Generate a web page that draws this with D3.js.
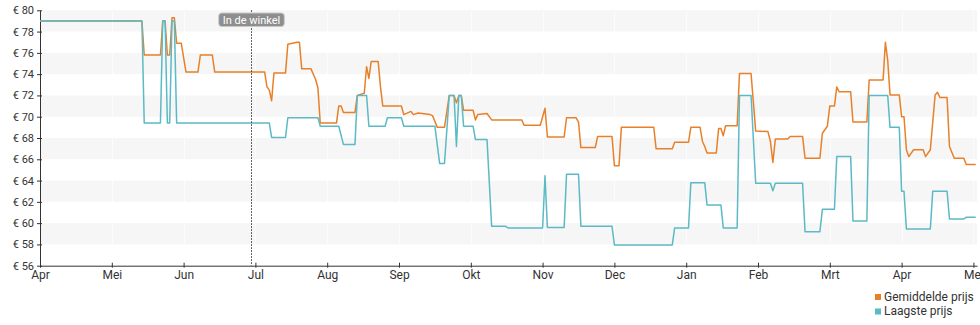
<!DOCTYPE html>
<html><head><meta charset="utf-8">
<script src="https://cdn.jsdelivr.net/npm/d3@7"></script>
<style>body{margin:0;background:#fff;} svg{display:block;font-family:Roboto,sans-serif;}</style>
</head><body><svg id="c" width="980" height="325"></svg>
<script>
const monthLabels = ["Apr","Mei","Jun","Jul","Aug","Sep","Okt","Nov","Dec","Jan","Feb","Mrt","Apr","Mei"];
const yTicks = [56,58,60,62,64,66,68,70,72,74,76,78,80];
const seriesNames = ["Gemiddelde prijs","Laagste prijs"];
const seriesColors = ["#e8802a","#5bbac5"];
const storeDate = "2023-06-29";
const storeLabel = "In de winkel";

const avgPrice = [
["2023-04-01",79],["2023-05-14",79],["2023-05-15",75.8],["2023-05-22",75.8],["2023-05-23",79],["2023-05-24",79],
["2023-05-25",75.8],["2023-05-26",75.8],["2023-05-27",79.3],["2023-05-28",79.3],["2023-05-29",76.9],["2023-05-31",76.9],
["2023-06-02",74.2],["2023-06-07",74.2],["2023-06-08",75.8],["2023-06-13",75.8],["2023-06-14",74.2],["2023-07-05",74.2],
["2023-07-06",72.8],["2023-07-07",72.5],["2023-07-08",71.5],["2023-07-09",74.1],["2023-07-14",74.1],["2023-07-15",76.8],
["2023-07-19",77.0],["2023-07-20",77.0],["2023-07-21",74.5],["2023-07-25",74.5],["2023-07-27",73.5],["2023-07-28",72.7],
["2023-07-29",69.4],["2023-08-05",69.4],["2023-08-06",71.0],["2023-08-07",71.0],["2023-08-08",70.4],["2023-08-13",70.4],
["2023-08-14",72.0],["2023-08-17",72.2],["2023-08-18",74.7],["2023-08-19",73.6],["2023-08-20",75.2],["2023-08-23",75.2],
["2023-08-24",72.8],["2023-08-25",71.0],["2023-09-02",71.0],["2023-09-03",70.2],["2023-09-06",70.5],["2023-09-07",70.2],
["2023-09-09",70.35],["2023-09-14",70.2],["2023-09-15",70.1],["2023-09-17",69.0],["2023-09-20",69.0],["2023-09-22",72.0],
["2023-09-24",72.0],["2023-09-25",71.3],["2023-09-26",72.0],["2023-09-27",72.0],["2023-09-28",70.6],["2023-10-02",70.6],
["2023-10-03",69.7],["2023-10-04",70.2],["2023-10-08",70.3],["2023-10-10",69.7],["2023-10-23",69.7],["2023-10-24",69.2],
["2023-10-31",69.2],["2023-11-02",70.8],["2023-11-03",68.1],["2023-11-10",68.1],["2023-11-11",69.9],["2023-11-15",69.9],
["2023-11-16",69.5],["2023-11-17",67.1],["2023-11-23",67.1],["2023-11-24",68.15],["2023-11-30",68.15],["2023-12-01",65.4],
["2023-12-03",65.4],["2023-12-04",69.0],["2023-12-18",69.0],["2023-12-19",67.0],["2023-12-26",67.0],["2023-12-27",67.6],
["2024-01-02",67.6],["2024-01-03",69.0],["2024-01-07",69.0],["2024-01-08",67.7],["2024-01-09",67.2],["2024-01-10",66.6],
["2024-01-14",66.6],["2024-01-15",68.9],["2024-01-16",68.9],["2024-01-17",68.2],["2024-01-18",69.15],["2024-01-23",69.15],
["2024-01-24",74.05],["2024-01-29",74.05],["2024-01-31",68.65],["2024-02-05",68.6],["2024-02-06",67.7],["2024-02-07",65.7],
["2024-02-08",67.9],["2024-02-13",67.9],["2024-02-14",68.15],["2024-02-19",68.15],["2024-02-20",66.1],["2024-02-26",66.1],
["2024-02-27",68.45],["2024-02-29",69.1],["2024-03-01",71.0],["2024-03-03",71.0],["2024-03-04",72.8],["2024-03-05",72.35],
["2024-03-10",72.35],["2024-03-11",69.5],["2024-03-17",69.5],["2024-03-18",73.45],["2024-03-24",73.45],["2024-03-25",77.0],
["2024-03-26",75.3],["2024-03-27",72.05],["2024-03-31",72.05],["2024-04-01",70.0],["2024-04-02",70.0],["2024-04-03",66.9],
["2024-04-04",66.25],["2024-04-06",66.9],["2024-04-10",66.9],["2024-04-11",66.25],["2024-04-13",66.9],["2024-04-15",72.05],
["2024-04-16",72.3],["2024-04-17",71.8],["2024-04-20",71.8],["2024-04-21",67.2],["2024-04-23",66.1],["2024-04-27",66.1],
["2024-04-28",65.5],["2024-05-02",65.5]
];

const lowPrice = [
["2023-04-01",79],["2023-05-14",79],["2023-05-15",69.4],["2023-05-22",69.4],["2023-05-23",79],["2023-05-24",79],
["2023-05-25",69.4],["2023-05-26",69.4],["2023-05-27",79],["2023-05-28",79],["2023-05-29",69.4],["2023-07-07",69.4],
["2023-07-08",68.05],["2023-07-14",68.05],["2023-07-15",69.9],["2023-07-28",69.9],["2023-07-29",69.1],["2023-08-06",69.1],
["2023-08-08",67.4],["2023-08-13",67.4],["2023-08-14",72.0],["2023-08-18",72.0],["2023-08-19",69.1],["2023-08-26",69.1],
["2023-08-27",69.9],["2023-09-02",69.9],["2023-09-03",69.1],["2023-09-16",69.1],["2023-09-18",65.6],["2023-09-20",65.6],
["2023-09-22",72.0],["2023-09-24",72.0],["2023-09-25",67.2],["2023-09-26",72.0],["2023-09-27",72.0],["2023-09-28",69.1],
["2023-10-02",69.1],["2023-10-03",67.85],["2023-10-08",67.85],["2023-10-10",59.7],["2023-10-16",59.7],["2023-10-17",59.55],
["2023-11-01",59.55],["2023-11-02",64.45],["2023-11-03",59.6],["2023-11-10",59.6],["2023-11-11",64.6],["2023-11-16",64.6],
["2023-11-17",59.7],["2023-11-30",59.7],["2023-12-01",57.95],["2023-12-26",57.95],["2023-12-27",59.55],["2024-01-02",59.55],
["2024-01-03",63.8],["2024-01-09",63.8],["2024-01-10",61.7],["2024-01-16",61.7],["2024-01-17",59.55],["2024-01-23",59.55],
["2024-01-24",72.0],["2024-01-29",72.0],["2024-01-31",63.75],["2024-02-06",63.75],["2024-02-07",63.05],["2024-02-08",63.75],
["2024-02-19",63.75],["2024-02-20",59.2],["2024-02-26",59.2],["2024-02-27",61.3],["2024-03-03",61.3],["2024-03-04",66.25],
["2024-03-10",66.25],["2024-03-11",60.2],["2024-03-17",60.2],["2024-03-18",72.0],["2024-03-26",72.0],["2024-03-27",69.0],
["2024-03-31",69.0],["2024-04-01",63.0],["2024-04-02",63.0],["2024-04-03",59.45],["2024-04-13",59.45],["2024-04-14",63.0],
["2024-04-20",63.0],["2024-04-21",60.4],["2024-04-27",60.4],["2024-04-28",60.55],["2024-05-02",60.55]
];

const startYear = 2023, startMonth = 4;
function monthIndex(s){
  const [yy,mm,dd] = s.split("-").map(Number);
  const dim = new Date(yy, mm, 0).getDate();
  return (yy-startYear)*12 + (mm-startMonth) + (dd-1)/dim;
}

const svg = d3.select("#c");
const x = d3.scaleLinear().domain([0, 13.05]).range([40, 977]);
const y = d3.scaleLinear().domain([56, 80]).range([265.7, 10.3]);
const textColor = "#333";

// alternating bands
const bands = yTicks.filter(t => t > 56 && (80 - t) % 4 === 0);
svg.append("g").selectAll("rect").data(bands).join("rect")
  .attr("x", x(0)).attr("width", x(13.05) - x(0))
  .attr("y", d => y(d)).attr("height", d => y(d-2) - y(d))
  .attr("fill", "#f6f6f6");

// faint vertical grid
svg.append("g").selectAll("line").data(d3.range(1, 14)).join("line")
  .attr("x1", d => Math.round(x(d)) + 0.5).attr("x2", d => Math.round(x(d)) + 0.5)
  .attr("y1", y(80)).attr("y2", y(56))
  .attr("stroke", "#fff").attr("stroke-opacity", 0.7);

// y axis
const yAxis = svg.append("g").attr("transform", `translate(${x(0)},0)`)
  .call(d3.axisLeft(y).tickValues(yTicks).tickFormat(d => "€ " + d)
    .tickSizeInner(3).tickSizeOuter(0).tickPadding(3));
yAxis.selectAll(".tick line").attr("x1", 2).attr("stroke", textColor);
yAxis.select(".domain").attr("stroke", textColor);
yAxis.selectAll("text").attr("fill", textColor).style("font-size", "11px").style("font-family", "Roboto");

// x axis
const xAxis = svg.append("g").attr("transform", `translate(0,${y(56)})`)
  .call(d3.axisBottom(x).tickValues(d3.range(14)).tickFormat(i => monthLabels[i])
    .tickSizeInner(2).tickSizeOuter(0).tickPadding(3));
xAxis.selectAll(".tick line").attr("y1", -3).attr("stroke", textColor);
xAxis.select(".domain").attr("stroke", textColor);
xAxis.selectAll("text").attr("fill", textColor).style("font-size", "12px").style("font-family", "Roboto");

// series lines
const line = d3.line().x(d => x(monthIndex(d[0]))).y(d => y(d[1]));
[avgPrice, lowPrice].forEach((s, i) => {
  svg.append("path").datum(s).attr("d", line)
    .attr("fill", "none").attr("stroke", seriesColors[i])
    .attr("stroke-width", 1.5).attr("stroke-linejoin", "round");
});

// store marker
const sx = Math.round(x(monthIndex(storeDate))) + 0.5;
svg.append("line").attr("x1", sx).attr("x2", sx).attr("y1", y(80)).attr("y2", y(56))
  .attr("stroke", "#333").attr("stroke-dasharray", "1.5,1.5");
const lg = svg.append("g");
const lt = lg.append("text").attr("x", sx).attr("y", 23.5).attr("text-anchor", "middle")
  .attr("fill", "#fff").style("font-size", "11px").text(storeLabel);
const tw = lt.node().getComputedTextLength();
lg.insert("rect", "text").attr("x", sx - tw/2 - 4).attr("y", 13).attr("width", tw + 8).attr("height", 13.5)
  .attr("rx", 3).attr("fill", "#8e8e8e").attr("stroke", "#c8c8c8");

// legend
const leg = svg.append("g").selectAll("g").data(seriesNames).join("g")
  .attr("transform", (d, i) => `translate(875,${294 + i*14.5})`);
leg.append("rect").attr("width", 6).attr("height", 6).attr("fill", (d, i) => seriesColors[i]);
leg.append("text").attr("x", 9).attr("y", 6.5).attr("fill", textColor)
  .style("font-size", "12px").text(d => d);
</script></body></html>
